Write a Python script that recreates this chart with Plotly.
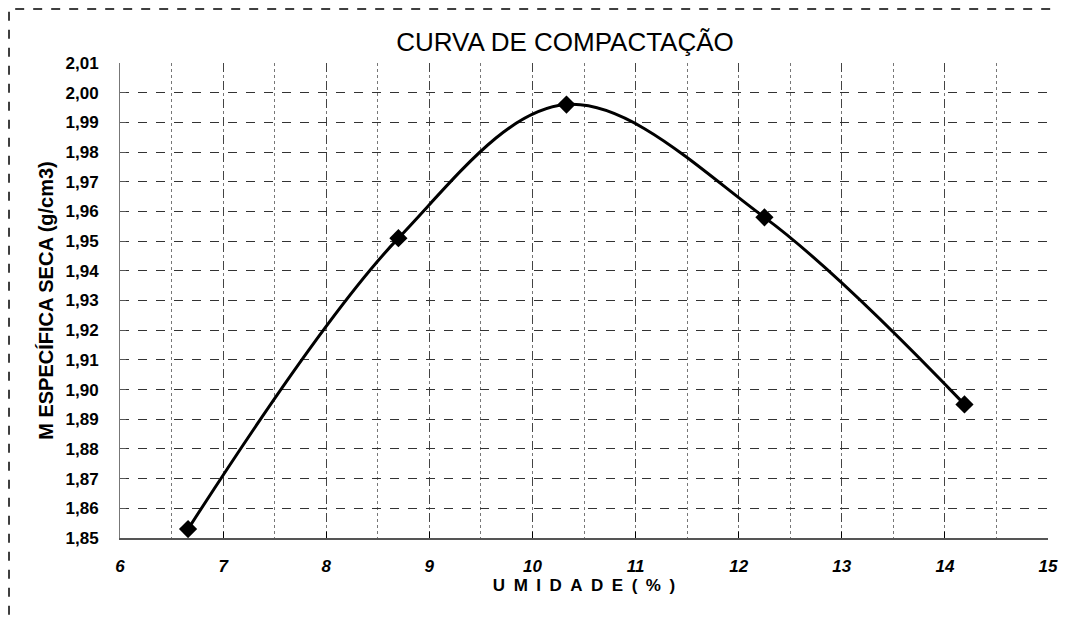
import plotly.graph_objects as go

# ensaio de compactacao
umidade = [6.66, 8.70, 10.33, 12.25, 14.19]
massa_seca = [1.853, 1.951, 1.996, 1.958, 1.895]

x_ticks = [6, 7, 8, 9, 10, 11, 12, 13, 14, 15]
y_ticks = [1.85, 1.86, 1.87, 1.88, 1.89, 1.90, 1.91, 1.92, 1.93,
           1.94, 1.95, 1.96, 1.97, 1.98, 1.99, 2.00, 2.01]

font = "Liberation Sans, Arial, sans-serif"
es = "\u2002"

fig = go.Figure()
fig.add_trace(go.Scatter(
    x=umidade,
    y=massa_seca,
    mode="lines+markers",
    line=dict(color="black", width=3, shape="spline", smoothing=1),
    marker=dict(symbol="diamond", size=14, color="black"),
    showlegend=False,
))

fig.update_layout(
    # page body adds 8px around the plot, so keep it a bit smaller
    width=1050,
    height=609,
    separators=",.",
    paper_bgcolor="white",
    plot_bgcolor="white",
    margin=dict(l=112, r=10, t=55, b=79, autoexpand=False),
    title=dict(text="CURVA DE COMPACTAÇÃO", x=0.5305, xanchor="center",
               y=0.9442, yanchor="middle",
               font=dict(family=font, size=26, color="black")),
    font=dict(family=font, color="black"),
    shapes=[dict(type="rect", xref="paper", yref="paper",
                 x0=-0.1196, x1=1.03, y0=-0.3, y1=1.1137,
                 line=dict(color="black", width=1.5, dash="dash"))],
)

fig.update_xaxes(
    range=[6, 15],
    tickvals=x_ticks,
    automargin=False,
    ticks="inside", ticklen=6, tickcolor="black",
    showline=True, linecolor="#555", linewidth=1.5,
    showgrid=True, gridcolor="#444", griddash="dash", gridwidth=1,
    minor=dict(dtick=0.5, showgrid=True, gridcolor="#777", griddash="dot"),
    tickfont=dict(family=font, size=17, weight="bold", style="italic"),
    ticklabelstandoff=12,
    title=dict(text=es.join("UMIDADE(%)"), standoff=0,
               font=dict(family=font, size=17, weight="bold")),
    zeroline=False,
)

fig.update_yaxes(
    range=[1.85, 2.01],
    tickvals=y_ticks,
    tickformat=".2f",
    automargin=False,
    ticks="inside", ticklen=6, tickcolor="#555",
    showline=True, linecolor="#777", linewidth=1, mirror=False,
    showgrid=True, gridcolor="#333", griddash="dash", gridwidth=1,
    tickfont=dict(family=font, size=17, weight="bold"),
    ticklabelstandoff=17,
    title=dict(text="M ESPECÍFICA SECA (g/cm3)", standoff=6,
               font=dict(family=font, size=20, weight="bold")),
    zeroline=False,
)

fig.write_html("out.html")
